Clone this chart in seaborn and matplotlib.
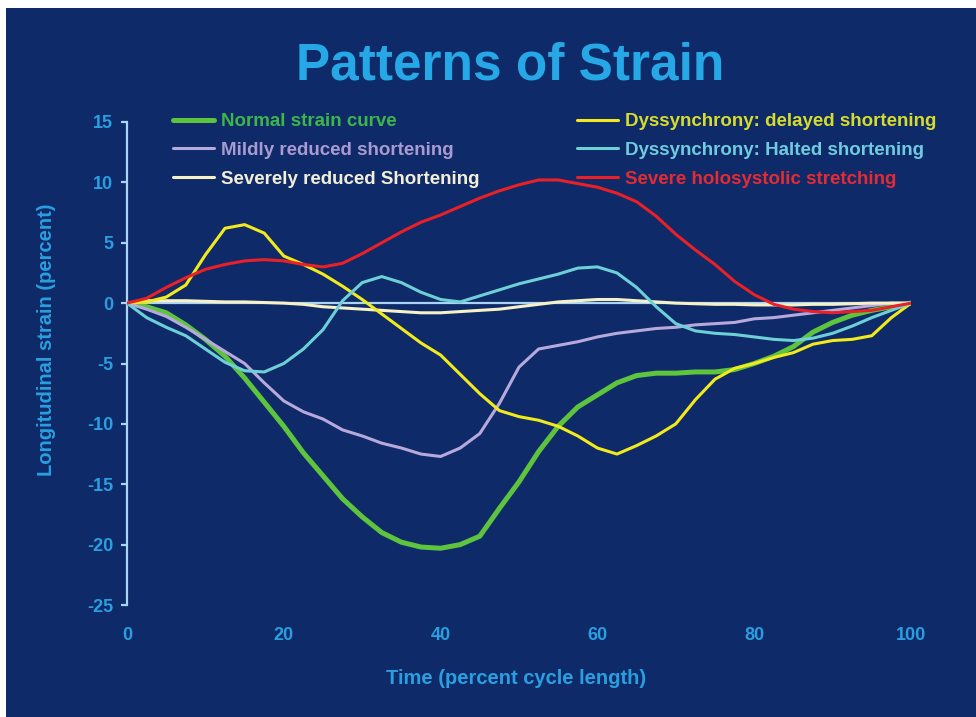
import numpy as np
import pandas as pd
import matplotlib
matplotlib.use('Agg')
import matplotlib.pyplot as plt
import seaborn as sns
from matplotlib.patches import Rectangle

# time axis (percent of cycle length), shared by all curves
time_pct = [0, 2.5, 5, 7.5, 10, 12.5, 15, 17.5, 20, 22.5, 25, 27.5, 30, 32.5, 35, 37.5,
            40, 42.5, 45, 47.5, 50, 52.5, 55, 57.5, 60, 62.5, 65, 67.5, 70, 72.5, 75, 77.5,
            80, 82.5, 85, 87.5, 90, 92.5, 95, 97.5, 100]

normal = [0, -0.3, -0.8, -1.8, -3.0, -4.4, -6.2, -8.2, -10.2, -12.4, -14.3, -16.2, -17.7, -19.0,
          -19.8, -20.2, -20.3, -20.0, -19.3, -17.0, -14.8, -12.3, -10.2, -8.6, -7.6, -6.6, -6.0,
          -5.8, -5.8, -5.7, -5.7, -5.5, -5.0, -4.4, -3.6, -2.4, -1.6, -1.0, -0.6, -0.3, 0]
mild = [0, -0.5, -1.1, -2.0, -3.0, -4.0, -5.0, -6.6, -8.1, -9.0, -9.6, -10.5, -11.0, -11.6,
        -12.0, -12.5, -12.7, -12.0, -10.8, -8.3, -5.3, -3.8, -3.5, -3.2, -2.8, -2.5, -2.3,
        -2.1, -2.0, -1.8, -1.7, -1.6, -1.3, -1.2, -1.0, -0.8, -0.6, -0.4, -0.2, 0.0, 0]
severe = [0, 0.2, 0.2, 0.2, 0.15, 0.1, 0.1, 0.05, 0, -0.1, -0.3, -0.4, -0.5, -0.6, -0.7,
          -0.8, -0.8, -0.7, -0.6, -0.5, -0.3, -0.1, 0.1, 0.2, 0.3, 0.3, 0.2, 0.1, 0.0, -0.05,
          -0.1, -0.1, -0.15, -0.15, -0.15, -0.1, -0.1, -0.05, 0, 0, 0]
delayed = [0, 0.1, 0.5, 1.5, 4.0, 6.2, 6.5, 5.8, 3.9, 3.2, 2.4, 1.4, 0.3, -0.9, -2.1, -3.3,
           -4.3, -5.9, -7.5, -8.9, -9.4, -9.7, -10.2, -11.0, -12.0, -12.5, -11.8, -11.0,
           -10.0, -8.0, -6.3, -5.4, -5.0, -4.5, -4.1, -3.4, -3.1, -3.0, -2.7, -1.2, 0]
halted = [0, -1.2, -2.0, -2.7, -3.8, -4.9, -5.6, -5.7, -5.0, -3.8, -2.2, 0.2, 1.7, 2.2, 1.7,
          0.9, 0.3, 0.1, 0.6, 1.1, 1.6, 2.0, 2.4, 2.9, 3.0, 2.5, 1.3, -0.3, -1.7, -2.3, -2.5,
          -2.6, -2.8, -3.0, -3.1, -2.9, -2.5, -1.9, -1.2, -0.6, 0]
stretching = [0, 0.4, 1.3, 2.1, 2.8, 3.2, 3.5, 3.6, 3.5, 3.2, 3.0, 3.3, 4.1, 5.0, 5.9, 6.7,
              7.3, 8.0, 8.7, 9.3, 9.8, 10.2, 10.2, 9.9, 9.6, 9.1, 8.4, 7.2, 5.7, 4.4, 3.2,
              1.8, 0.7, -0.1, -0.5, -0.7, -0.8, -0.7, -0.6, -0.3, 0]

labels = ['Normal strain curve', 'Mildly reduced shortening', 'Severely reduced Shortening',
          'Dyssynchrony: delayed shortening', 'Dyssynchrony: Halted shortening',
          'Severe holosystolic stretching']
series = [normal, mild, severe, delayed, halted, stretching]
line_colors = ['#5ec43e', '#b7a9dc', '#f6f1c6', '#f2ea1c', '#6dd0d6', '#ea2026']
text_colors = ['#3db54a', '#a99bd1', '#f3efd7', '#d6dc2c', '#6fcbe0', '#e42a33']
widths = [3.6, 2.2, 2.2, 2.2, 2.2, 2.2]

navy = '#0e2a68'
axis_blue = '#a9d4f5'
label_blue = '#2a9fe0'

sns.set_theme(style='dark')
plt.rcParams['font.family'] = ['Liberation Sans', 'DejaVu Sans']
plt.rcParams['font.weight'] = 'bold'
plt.rcParams['axes.unicode_minus'] = False

fig = plt.figure(figsize=(9.76, 7.17), dpi=100)
fig.patch.set_facecolor('white')
fig.patches.append(Rectangle((6 / 976, 0), 1, 1 - 8 / 717, transform=fig.transFigure,
                             facecolor=navy, edgecolor='none', zorder=-10))

ax = fig.add_axes([127 / 976, 1 - 605 / 717, 784 / 976, 483 / 717])
ax.set_facecolor(navy)
ax.patch.set_alpha(0)

ax.axhline(0, color=axis_blue, lw=1.6, zorder=1)

df = pd.DataFrame({'time': time_pct})
for lab, vals in zip(labels, series):
    df[lab] = vals

for lab, col, lw in zip(labels, line_colors, widths):
    sns.lineplot(data=df, x='time', y=lab, color=col, lw=lw, ax=ax, label=lab, zorder=3,
                 solid_joinstyle='round', solid_capstyle='round')

ax.set_xlim(0, 100)
ax.set_ylim(-25, 15)
ax.set_xticks([0, 20, 40, 60, 80, 100])
ax.set_yticks([-25, -20, -15, -10, -5, 0, 5, 10, 15])
ax.set_xlabel('')
ax.set_ylabel('')
ax.grid(False)
for s in ['top', 'right', 'bottom']:
    ax.spines[s].set_visible(False)
ax.spines['left'].set_color(axis_blue)
ax.spines['left'].set_linewidth(1.6)
ax.tick_params(axis='y', length=4, width=1.6, color=axis_blue, labelcolor=label_blue,
               labelsize=13, pad=6, left=True)
ax.tick_params(axis='x', length=0, labelcolor=label_blue, labelsize=13, pad=16)
for t in ax.get_xticklabels() + ax.get_yticklabels():
    t.set_fontweight('bold')

handles, _ = ax.get_legend_handles_labels()
ax.get_legend().remove()
common = dict(frameon=False, handlelength=2.2, handletextpad=0.35, labelspacing=0.62,
              borderpad=0, borderaxespad=0, loc='upper left',
              prop={'size': 13.5, 'weight': 'bold'}, bbox_transform=fig.transFigure)
leg1 = ax.legend(handles[:3], labels[:3], bbox_to_anchor=(173 / 976, 1 - 113 / 717),
                 labelcolor=text_colors[:3], **common)
ax.add_artist(leg1)
leg2 = ax.legend(handles[3:], labels[3:], bbox_to_anchor=(577 / 976, 1 - 113 / 717),
                 labelcolor=text_colors[3:], **common)

fig.text(510 / 976, 1 - 66 / 717, 'Patterns of Strain', ha='center', va='center',
         fontsize=37, fontweight='bold', color='#27a8e6')
fig.text(47 / 976, 1 - 340 / 717, 'Longitudinal strain (percent)', rotation=90,
         ha='center', va='center', fontsize=14.5, fontweight='bold', color=label_blue)
fig.text(516 / 976, 1 - 678 / 717, 'Time (percent cycle length)', ha='center', va='center',
         fontsize=14.5, fontweight='bold', color=label_blue)

fig.savefig('out.png', dpi=100, facecolor=fig.get_facecolor())
